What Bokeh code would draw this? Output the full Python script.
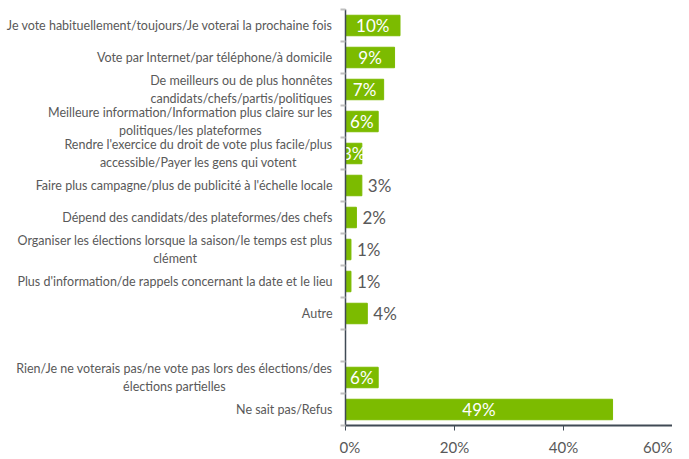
from bokeh.plotting import figure
from bokeh.models import ColumnDataSource, Range1d, LinearAxis, FixedTicker
from bokeh.layouts import row
from bokeh.core.properties import value
from bokeh.embed import file_html
from bokeh.resources import INLINE

categories = [
    "Je vote habituellement/toujours/Je voterai la prochaine fois",
    "Vote par Internet/par téléphone/à domicile",
    "De meilleurs ou de plus honnêtes\ncandidats/chefs/partis/politiques",
    "Meilleure information/Information plus claire sur les\npolitiques/les plateformes",
    "Rendre l'exercice du droit de vote plus facile/plus\naccessible/Payer les gens qui votent",
    "Faire plus campagne/plus de publicité à l'échelle locale",
    "Dépend des candidats/des plateformes/des chefs",
    "Organiser les élections lorsque la saison/le temps est plus\nclément",
    "Plus d'information/de rappels concernant la date et le lieu",
    "Autre",
    "",
    "Rien/Je ne voterais pas/ne vote pas lors des élections/des\nélections partielles",
    "Ne sait pas/Refus",
]
values = [10, 9, 7, 6, 3, 3, 2, 1, 1, 4, None, 6, 49]
x_ticks = [0, 20, 40, 60]
x_tick_labels = ["0%", "20%", "40%", "60%"]

# style: whether value label sits inside the bar (white) or outside (grey)
label_inside = [True, True, True, True, True, False, False, False, False, False, None, True, True]

BAR = "#7cbb00"
TXT = "#595959"
AXIS = "#404a55"
FONT = "Lato"

n = len(categories)
centers = [i + 0.5 for i in range(n)]
bounds = list(range(n + 1))

ys, vs, lx, ltxt, lcol, lalign, loff = [], [], [], [], [], [], []
for i, v in enumerate(values):
    if v is None:
        continue
    ys.append(centers[i])
    vs.append(v)
    ltxt.append(f"{v}%")
    if label_inside[i]:
        lx.append(v / 2)
        lcol.append("white")
        lalign.append("center")
        loff.append(0)
    else:
        lx.append(v)
        lcol.append(TXT)
        lalign.append("left")
        loff.append(6)

src = ColumnDataSource(dict(y=ys, v=vs, lx=lx, t=ltxt, c=lcol, a=lalign, o=loff))
cat_src = ColumnDataSource(dict(y=[c for c, l in zip(centers, categories) if l],
                                t=[l for l in categories if l],
                                x=[0 for l in categories if l]))

y_range = Range1d(n, 0)

# label panel
lp = figure(frame_width=339, frame_height=416, output_backend="svg", toolbar_location=None,
            x_range=Range1d(-339, 0), y_range=y_range,
            x_axis_location=None, y_axis_location=None,
            min_border_left=0, min_border_right=0, min_border_top=9, min_border_bottom=0)
lp.outline_line_color = None
lp.xgrid.visible = False
lp.ygrid.visible = False
lp.text(x="x", y="y", text="t", source=cat_src, x_offset=-7,
        anchor="center_right", text_align="center", text_baseline="middle",
        text_font=value(FONT), text_font_size="12.5px", text_color=TXT,
        text_line_height=1.2)

# chart panel
p = figure(frame_width=327, frame_height=416, output_backend="svg", toolbar_location=None,
           x_range=Range1d(0, 60), y_range=y_range,
           x_axis_location=None, y_axis_location=None,
           min_border_left=6, min_border_right=0, min_border_top=9, min_border_bottom=20)
p.outline_line_color = None
p.xgrid.visible = False
p.ygrid.visible = False

p.hbar(y="y", right="v", left=0, height=0.64, color=BAR, source=src)
p.text(x="lx", y="y", text="t", text_color="c", text_align="a", x_offset="o",
       text_baseline="middle", text_font=value(FONT), text_font_size="17px", source=src)

yaxis = LinearAxis(ticker=FixedTicker(ticks=[], minor_ticks=bounds))
yaxis.major_label_standoff = 0
yaxis.major_tick_out = 0
yaxis.major_tick_in = 0
yaxis.minor_tick_out = 5
yaxis.minor_tick_in = 0
yaxis.minor_tick_line_color = "#bfbfbf"
yaxis.minor_tick_line_width = 2
yaxis.axis_line_color = AXIS
yaxis.axis_line_width = 1.5
p.add_layout(yaxis, "left")

xaxis = LinearAxis(ticker=FixedTicker(ticks=x_ticks))
xaxis.major_label_overrides = {t: l for t, l in zip(x_ticks, x_tick_labels)}
xaxis.major_tick_out = 5
xaxis.major_tick_in = 0
xaxis.minor_tick_out = 0
xaxis.minor_tick_in = 0
xaxis.major_tick_line_color = AXIS
xaxis.axis_line_color = AXIS
xaxis.axis_line_width = 2
xaxis.major_label_text_font = FONT
xaxis.major_label_text_font_size = "15px"
xaxis.major_label_text_color = TXT
xaxis.major_label_standoff = 7
p.add_layout(xaxis, "below")

layout = row(lp, p, spacing=0)
open("out.html", "w").write(file_html(layout, INLINE))
